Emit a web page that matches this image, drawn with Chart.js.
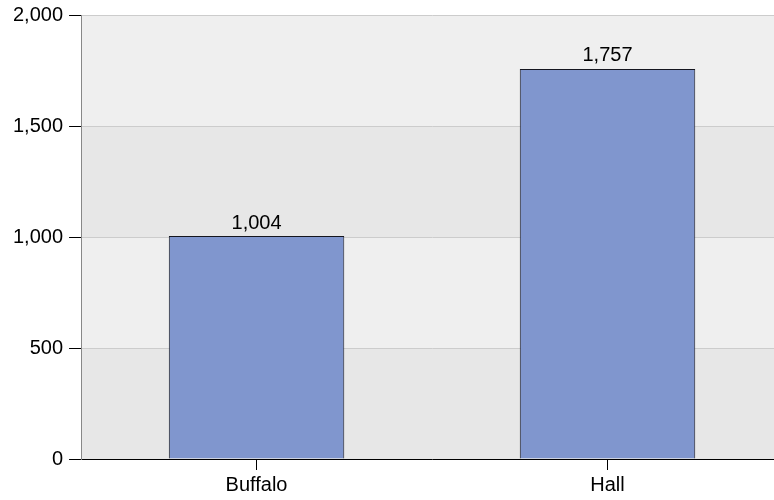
<!DOCTYPE html>
<html>
<head>
<meta charset="utf-8">
<script src="https://cdn.jsdelivr.net/npm/chart.js@4.4.0/dist/chart.umd.min.js"></script>
<style>
  html, body { margin: 0; padding: 0; background: #ffffff; overflow: hidden; }
  #grafico { display: block; }
</style>
</head>
<body>
<canvas id="grafico" width="783" height="500"></canvas>
<script>
// dados do gráfico
const categorias = ["Buffalo", "Hall"];
const valores = [1004, 1757];
const ticksY = [0, 500, 1000, 1500, 2000];

const fonte = "'Liberation Sans', Arial, sans-serif";

// faixas alternadas no fundo da área do gráfico
const faixasFundo = {
  id: "faixasFundo",
  beforeDraw(chart) {
    const ctx = chart.ctx, area = chart.chartArea, y = chart.scales.y;
    ctx.save();
    for (let i = 0; i < ticksY.length - 1; i++) {
      const y0 = y.getPixelForValue(ticksY[i]);
      const y1 = y.getPixelForValue(ticksY[i + 1]);
      ctx.fillStyle = (i % 2 == 0) ? "#e7e7e7" : "#efefef";
      ctx.fillRect(area.left, y1, area.right - area.left, y0 - y1);
    }
    ctx.restore();
  }
};

// rótulos de valor em cima das barras
const rotulos = {
  id: "rotulos",
  afterDatasetsDraw(chart) {
    const ctx = chart.ctx;
    const meta = chart.getDatasetMeta(0);
    ctx.save();
    ctx.font = "20px " + fonte;
    ctx.fillStyle = "#000000";
    ctx.textAlign = "center";
    ctx.textBaseline = "bottom";
    meta.data.forEach((barra, i) => {
      ctx.fillText(valores[i].toLocaleString("en-US"), barra.x, barra.y - 3);
    });
    ctx.restore();
  }
};

const dados = {
  labels: categorias,
  datasets: [{
    data: valores,
    backgroundColor: "#8096ce",
    borderColor: "#15161f",
    borderWidth: 1,
    barPercentage: 0.5,
    categoryPercentage: 1.0
  }]
};

new Chart(document.getElementById("grafico"), {
  type: "bar",
  data: dados,
  options: {
    responsive: false,
    animation: false,
    layout: { autoPadding: false, padding: { left: 7, top: 15, right: 0, bottom: 0 } },
    plugins: {
      legend: { display: false },
      tooltip: { enabled: false }
    },
    scales: {
      x: {
        grid: {
          display: true,
          drawOnChartArea: false,
          offset: false,
          tickLength: 11,
          tickColor: "#000000"
        },
        border: { color: "#000000", width: 1 },
        ticks: {
          color: "#000000",
          padding: 3,
          font: { family: fonte, size: 20 }
        }
      },
      y: {
        min: 0,
        max: 2000,
        afterBuildTicks: (escala) => {
          escala.ticks = ticksY.map(v => ({ value: v }));
        },
        grid: {
          color: "#cccccc",
          tickLength: 12,
          tickColor: "#000000"
        },
        border: { color: "#888888", width: 1 },
        ticks: {
          color: "#000000",
          padding: 6,
          font: { family: fonte, size: 20, lineHeight: 0.8 },
          callback: (v) => Number(v).toLocaleString("en-US")
        }
      }
    }
  },
  plugins: [faixasFundo, rotulos]
});
</script>
</body>
</html>
